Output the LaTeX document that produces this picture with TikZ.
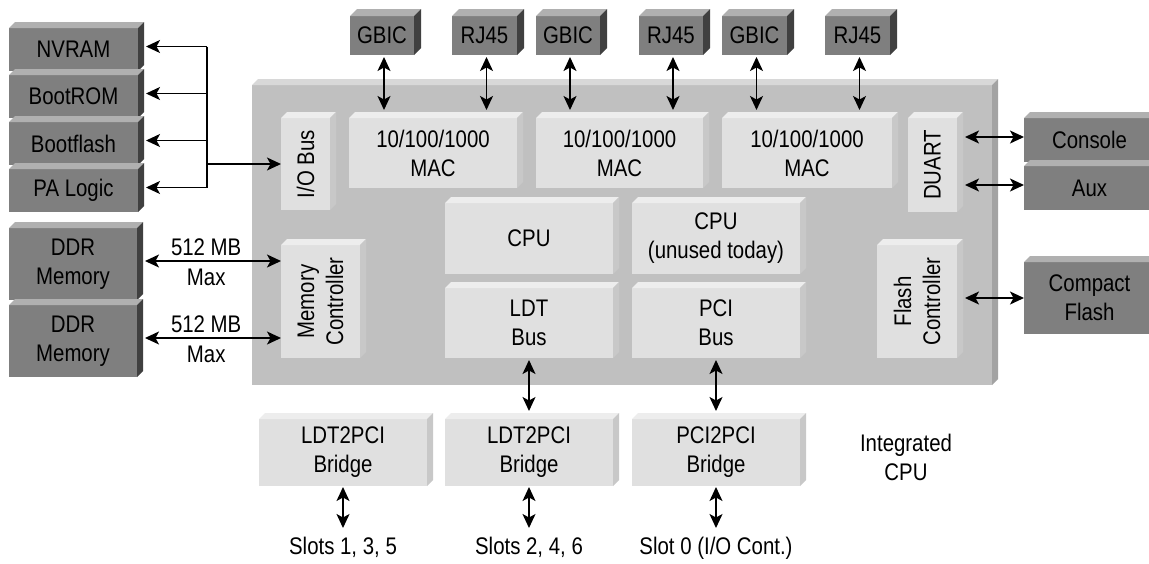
\documentclass[tikz,border=0pt]{standalone}
\usepackage{fontspec}
\setmainfont{Liberation Sans}[FakeStretch=0.85]
\usetikzlibrary{arrows.meta,calc}

\definecolor{dkfront}{HTML}{7F7F7F}
\definecolor{dktop}{HTML}{B0B0B0}
\definecolor{dkside}{HTML}{404040}
\definecolor{chipfront}{HTML}{C0C0C0}
\definecolor{chiptop}{HTML}{D8D8D8}
\definecolor{chipside}{HTML}{A3A3A3}
\definecolor{ltfront}{HTML}{E0E0E0}
\definecolor{lttop}{HTML}{EDEDED}
\definecolor{ltside}{HTML}{C8C8C8}

% #1 name, #2 colour prefix, #3 x1, #4 y1, #5 x2, #6 y2, #7 depth, #8 text
\newcommand\tdbox[8]{%
  \node[face, fill=#2front, anchor=north west, minimum width={#5-#3}, minimum height={#6-#4}] (#1) at (#3,#4) {#8};
  \fill[#2top] (#1.north west) -- ++(#7pt,#7pt) -- ([shift={(#7pt,#7pt)}]#1.north east) -- (#1.north east) -- cycle;
  \fill[#2side] (#1.north east) -- ++(#7pt,#7pt) -- ([shift={(#7pt,#7pt)}]#1.south east) -- (#1.south east) -- cycle;
}

\begin{document}
\begin{tikzpicture}[x=1pt,y=-1pt, font=\fontsize{24}{29}\selectfont,
  face/.style={inner sep=0pt, outer sep=0pt, align=center, text=black},
  txt/.style={inner sep=0pt, outer sep=0pt, align=center, text=black},
  conn/.style={line width=1.4pt, black},
  biarrow/.style={conn, {Stealth[length=14pt,width=13pt,inset=3.5pt]}-{Stealth[length=14pt,width=13pt,inset=3.5pt]}},
  onearrow/.style={conn, -{Stealth[length=14pt,width=13pt,inset=3.5pt]}}]

\fill[white] (0,0) rectangle (1149,563);
\useasboundingbox (0,0) rectangle (1149,563);
\clip (0,0) rectangle (1149,563);

% left stacks
\tdbox{nv}{dk}{9}{28}{138}{71}{6}{NVRAM}
\tdbox{brom}{dk}{9}{75}{138}{118}{6}{BootROM}
\tdbox{bf}{dk}{9}{122}{138}{165}{6}{Bootflash}
\tdbox{pa}{dk}{9}{169}{138}{212}{6}{PA Logic}
\tdbox{ddra}{dk}{9}{228}{137}{300}{6}{DDR\\Memory}
\tdbox{ddrb}{dk}{9}{305}{137}{377}{6}{DDR\\Memory}

% top connectors
\tdbox{ga}{dk}{350}{16}{414}{55}{7}{GBIC}
\tdbox{ra}{dk}{452}{16}{517}{55}{7}{RJ45}
\tdbox{gb}{dk}{536}{16}{600}{55}{7}{GBIC}
\tdbox{rb}{dk}{639}{16}{703}{55}{7}{RJ45}
\tdbox{gc}{dk}{722}{16}{787}{55}{7}{GBIC}
\tdbox{rc}{dk}{825}{16}{890}{55}{7}{RJ45}

% chip
\tdbox{chip}{chip}{252}{85}{992}{385}{6}{}
\tdbox{iob}{lt}{281}{118}{330}{210}{6}{}
\tdbox{maca}{lt}{349}{118}{517}{188}{6}{10/100/1000\\MAC}
\tdbox{macb}{lt}{536}{118}{703}{188}{6}{10/100/1000\\MAC}
\tdbox{macc}{lt}{722}{118}{892}{188}{6}{10/100/1000\\MAC}
\tdbox{duart}{lt}{908}{118}{957}{212}{6}{}
\tdbox{cpua}{lt}{445}{203}{613}{274}{6}{CPU}
\tdbox{cpub}{lt}{632}{203}{800}{274}{6}{CPU\\(unused today)}
\tdbox{ldt}{lt}{445}{288}{613}{358}{6}{LDT\\Bus}
\tdbox{pci}{lt}{632}{288}{800}{358}{6}{PCI\\Bus}
\tdbox{mc}{lt}{281}{245}{360}{358}{6}{}
\tdbox{fc}{lt}{877}{245}{957}{358}{6}{}

\node[txt, rotate=90] at (iob.center) {I/O Bus};
\node[txt, rotate=90] at (duart.center) {DUART};
\node[txt, rotate=90] at (mc.center) {Memory\\Controller};
\node[txt, rotate=90] at (fc.center) {Flash\\Controller};

% right side
\tdbox{con}{dk}{1024}{118}{1155}{162}{6}{Console}
\tdbox{aux}{dk}{1024}{166}{1155}{210}{6}{Aux}
\tdbox{cf}{dk}{1024}{262}{1155}{334}{6}{Compact\\Flash}

% bridges
\tdbox{bra}{lt}{259}{419}{427}{486}{6}{LDT2PCI\\Bridge}
\tdbox{brb}{lt}{445}{419}{613}{486}{6}{LDT2PCI\\Bridge}
\tdbox{brc}{lt}{632}{419}{800}{486}{6}{PCI2PCI\\Bridge}

% bottom texts
\node[txt, text height=17pt, text depth=5pt] (sa) at (343,548) {Slots 1, 3, 5};
\node[txt, text height=17pt, text depth=5pt] (sb) at (529,548) {Slots 2, 4, 6};
\node[txt, text height=17pt, text depth=5pt] (sc) at (716,548) {Slot 0 (I/O Cont.)};
\node[txt] (ic) at (906,457) {Integrated\\CPU};

% left bus
\coordinate (busx) at (207,0);
\draw[conn] ($(nv.east -| busx)+(0,3pt)$) -- ($(pa.east -| busx)+(0,3pt)$);
\foreach \b in {nv,brom,bf,pa}
  \draw[onearrow] ($(\b.east -| busx)+(0,3pt)$) -- ($(\b.east)+(8pt,3pt)$);
\draw[onearrow] (busx |- iob.west) -- (iob.west);

% memory
\draw[biarrow] ($(ddra.east)+(8pt,3pt)$) -- ($(ddra.east -| mc.west)+(0,3pt)$)
  node[txt, pos=0.45, yshift=14pt] {512 MB} node[txt, pos=0.45, yshift=-16pt] {Max};
\draw[biarrow] ($(ddrb.east)+(8pt,3pt)$) -- ($(ddrb.east -| mc.west)+(0,3pt)$)
  node[txt, pos=0.45, yshift=14pt] {512 MB} node[txt, pos=0.45, yshift=-16pt] {Max};

% top connectors
\draw[biarrow] ($(ga.south)+(2pt,-2pt)$) -- ($(ga.south |- maca.north)+(2pt,8pt)$);
\draw[biarrow] ($(ra.south)+(2pt,-2pt)$) -- ($(ra.south |- maca.north)+(2pt,8pt)$);
\draw[biarrow] ($(gb.south)+(2pt,-2pt)$) -- ($(gb.south |- macb.north)+(2pt,8pt)$);
\draw[biarrow] ($(rb.south)+(2pt,-2pt)$) -- ($(rb.south |- macb.north)+(2pt,8pt)$);
\draw[biarrow] ($(gc.south)+(2pt,-2pt)$) -- ($(gc.south |- macc.north)+(2pt,8pt)$);
\draw[biarrow] ($(rc.south)+(2pt,-2pt)$) -- ($(rc.south |- macc.north)+(2pt,8pt)$);

% right
\draw[biarrow] ($(duart.east |- con.west)+(8pt,3pt)$) -- ($(con.west)+(0,3pt)$);
\draw[biarrow] ($(duart.east |- aux.west)+(8pt,3pt)$) -- ($(aux.west)+(0,3pt)$);
\draw[biarrow] ($(fc.east |- cf.west)+(8pt,0pt)$) -- (cf.west);

% buses to bridges
\draw[biarrow] ($(ldt.south)+(0,-2pt)$) -- ($(ldt.south |- brb.north)+(0,8pt)$);
\draw[biarrow] ($(pci.south)+(0,-2pt)$) -- ($(pci.south |- brc.north)+(0,8pt)$);

% bridges to slots
\draw[biarrow] ($(bra.south)+(0,-1pt)$) -- ($(sa.north)+(0,9pt)$);
\draw[biarrow] ($(brb.south)+(0,-1pt)$) -- ($(sb.north)+(0,9pt)$);
\draw[biarrow] ($(brc.south)+(0,-1pt)$) -- ($(sc.north)+(0,9pt)$);

\end{tikzpicture}
\end{document}
